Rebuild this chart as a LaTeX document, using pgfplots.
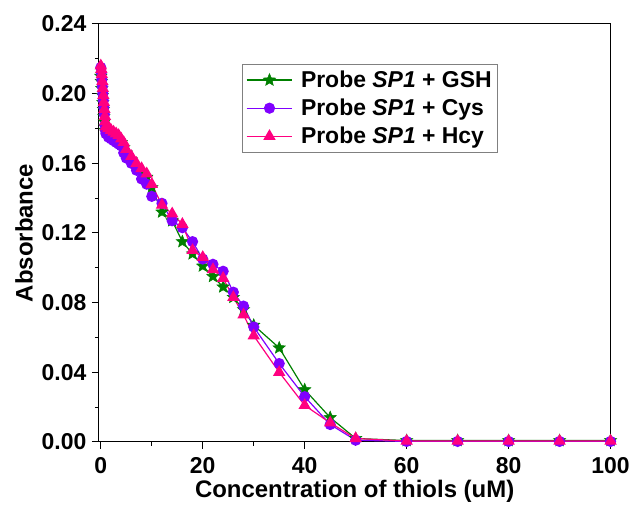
\documentclass[border=0pt]{standalone}
\usepackage{fontspec}
\setmainfont{Liberation Sans}
\usepackage{pgfplots}
\pgfplotsset{compat=1.18}
\usepackage{pgfplotstable}
\definecolor{cgsh}{RGB}{0,128,0}
\definecolor{ccys}{RGB}{128,0,255}
\definecolor{chcy}{RGB}{255,0,128}
\pgfdeclareplotmark{fstar}{%
  \pgfpathmoveto{\pgfqpointpolar{90}{\pgfplotmarksize}}%
  \pgfpathlineto{\pgfqpointpolar{126}{0.45\pgfplotmarksize}}%
  \pgfpathlineto{\pgfqpointpolar{162}{\pgfplotmarksize}}%
  \pgfpathlineto{\pgfqpointpolar{198}{0.45\pgfplotmarksize}}%
  \pgfpathlineto{\pgfqpointpolar{234}{\pgfplotmarksize}}%
  \pgfpathlineto{\pgfqpointpolar{270}{0.45\pgfplotmarksize}}%
  \pgfpathlineto{\pgfqpointpolar{306}{\pgfplotmarksize}}%
  \pgfpathlineto{\pgfqpointpolar{342}{0.45\pgfplotmarksize}}%
  \pgfpathlineto{\pgfqpointpolar{18}{\pgfplotmarksize}}%
  \pgfpathlineto{\pgfqpointpolar{54}{0.45\pgfplotmarksize}}%
  \pgfpathclose
  \pgfusepathqfillstroke}
\pgfplotstableread{
x gsh cys hcy
0 0.210 0.215 0.216
0.1 0.207 0.212 0.214
0.2 0.203 0.208 0.211
0.3 0.199 0.204 0.207
0.4 0.195 0.200 0.203
0.5 0.191 0.196 0.199
0.6 0.187 0.192 0.195
0.7 0.184 0.188 0.191
0.8 0.181 0.182 0.187
0.9 0.179 0.179 0.184
1 0.178 0.177 0.181
1.5 0.177 0.175 0.180
2 0.176 0.174 0.179
2.5 0.175 0.173 0.178
3 0.174 0.172 0.177
3.5 0.173 0.171 0.176
4 0.172 0.170 0.174
4.5 0.169 0.166 0.172
5 0.166 0.163 0.168
6 0.162 0.160 0.164
7 0.158 0.156 0.160
8 0.155 0.151 0.157
9 0.152 0.148 0.154
10 0.146 0.141 0.148
12 0.132 0.137 0.136
14 0.127 0.127 0.131
16 0.115 0.123 0.125
18 0.108 0.115 0.110
20 0.101 0.105 0.106
22 0.095 0.102 0.099
24 0.089 0.098 0.094
26 0.083 0.086 0.083
28 0.076 0.078 0.073
30 0.067 0.066 0.061
35 0.054 0.045 0.040
40 0.030 0.026 0.021
45 0.014 0.010 0.011
50 0.002 0.001 0.002
60 0.0008 0.0003 0.0005
70 0.0008 0.0003 0.0005
80 0.0008 0.0003 0.0005
90 0.0008 0.0003 0.0005
100 0.0008 0.0003 0.0005
}\datatable
\begin{document}
\begin{tikzpicture}
\begin{axis}[
  scale only axis,
  width=513bp, height=419bp,
  xmin=-0.4, xmax=100, ymin=0, ymax=0.24,
  xtick={0,20,...,100}, minor xtick={10,30,...,90},
  ytick={0,0.04,...,0.241}, minor ytick={0.02,0.06,...,0.23},
  tick align=outside, xtick pos=bottom, ytick pos=left,
  major tick length=7bp, minor tick length=4bp,
  every tick/.style={black, line width=1bp},
  axis line style={line width=1bp},
  /pgf/number format/assume math mode=true,
  tick label style={font=\fontsize{23bp}{27bp}\selectfont\bfseries},
  yticklabel style={xshift=-2bp, /pgf/number format/.cd, fixed, fixed zerofill, precision=2},
  xticklabel style={yshift=-5bp},
  label style={font=\fontsize{24bp}{28bp}\selectfont\bfseries},
  xlabel={Concentration of thiols (uM)},
  ylabel={Absorbance},
  xlabel style={at={(axis description cs:0.5,-0.118)}, anchor=center},
  ylabel style={at={(axis description cs:-0.146,0.5)}, anchor=center},
  legend style={at={(0.279,0.905)}, anchor=north west, draw=gray, line width=0.8bp,
    font=\fontsize{23bp}{27bp}\selectfont\bfseries, row sep=6bp,
    inner xsep=4bp, inner ysep=5bp,
    nodes={inner sep=2bp}},
  legend cell align=left,
  legend image code/.code={%
    \draw[mark repeat=2,mark phase=2,line width=1.2bp] plot coordinates {(0bp,0bp) (23bp,0bp) (46bp,0bp)};},
]
\addplot[cgsh, line width=1.2bp, mark=fstar, mark size=6.5bp, mark options={fill=cgsh, line width=0.5bp}] table[x=x, y=gsh] {\datatable};
\addlegendentry{\hspace{6bp}Probe \textit{SP1} + GSH}
\addplot[ccys, line width=1.2bp, mark=*, mark size=5bp, mark options={fill=ccys}] table[x=x, y=cys] {\datatable};
\addlegendentry{\hspace{6bp}Probe \textit{SP1} + Cys}
\addplot[chcy, line width=1.2bp, mark=triangle*, mark size=6bp, mark options={fill=chcy}] table[x=x, y=hcy] {\datatable};
\addlegendentry{\hspace{6bp}Probe \textit{SP1} + Hcy}
\end{axis}
\path (current axis.south west) ++(-99bp,-77bp) rectangle ++(633bp,520bp);
\end{tikzpicture}
\end{document}
